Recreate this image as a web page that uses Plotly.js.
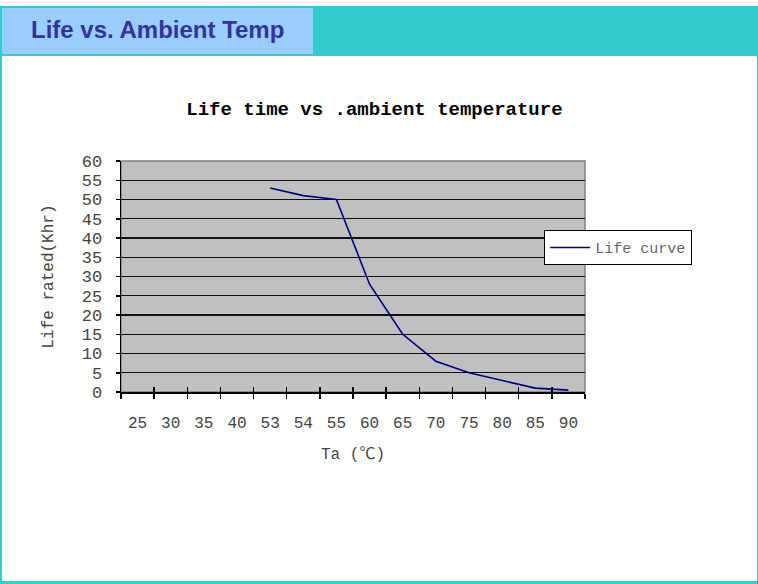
<!DOCTYPE html>
<html>
<head>
<meta charset="utf-8">
<script src="https://cdn.plot.ly/plotly-3.0.1.min.js"></script>
<style>
  html, body { margin: 0; padding: 0; background: #ffffff; }
  #page { position: relative; width: 758px; height: 584px; overflow: hidden; background: #ffffff; }
  #band { position: absolute; left: 0; top: 6px; width: 758px; height: 50px; background: #33CCCC; }
  #tab { position: absolute; left: 2px; top: 8px; width: 311px; height: 46px; background: #99CCFF;
         font-family: "Liberation Sans", Arial, sans-serif; font-weight: bold; font-size: 24px;
         color: #333399; line-height: 44px; box-sizing: border-box; padding-left: 29px; white-space: nowrap; }
  #frame { position: absolute; left: 0; top: 56px; width: 758px; height: 528px; box-sizing: border-box;
           border-left: 2px solid #33CCCC; border-right: 1px solid #33CCCC; border-bottom: 3px solid #33CCCC; }
  #chart { position: absolute; left: 0; top: 0; width: 758px; height: 584px; }
</style>
</head>
<body>
<div id="page">
  <div id="band"></div>
  <div id="tab">Life vs. Ambient Temp</div>
  <div id="frame"></div>
  <div id="chart"></div>
</div>
<script>
const temperatures = ["25", "30", "35", "40", "53", "54", "55", "60", "65", "70", "75", "80", "85", "90"];
const lifeKhr = [null, null, null, null, 53, 51, 50, 28, 15, 8, 5, 3, 1, 0.5];
const seriesName = "Life curve";
const yTicks = [0, 5, 10, 15, 20, 25, 30, 35, 40, 45, 50, 55, 60];

const mono = "'Liberation Mono', 'DejaVu Sans Mono', 'Noto Sans CJK SC', monospace";

const traces = [
  {
    x: temperatures, y: lifeKhr, name: seriesName, type: "scatter", mode: "lines",
    line: { color: "#000080", width: 1.6 }, connectgaps: false, hoverinfo: "x+y"
  },
  {
    x: temperatures, y: lifeKhr, xaxis: "x2", type: "scatter", mode: "lines",
    line: { color: "rgba(0,0,0,0)", width: 0 }, showlegend: false, hoverinfo: "skip"
  }
];

const layout = {
  width: 758, height: 584,
  paper_bgcolor: "rgba(0,0,0,0)",
  plot_bgcolor: "#C0C0C0",
  margin: { l: 121, r: 173, t: 161, b: 192, pad: 0 },
  title: {
    text: "Life time vs .ambient temperature",
    font: { family: mono, size: 19, color: "#000000", weight: "bold" },
    xref: "container", x: 0.494, xanchor: "center",
    yref: "container", y: 0.815, yanchor: "middle"
  },
  showlegend: true,
  legend: {
    x: 0.912, y: 0.70, xanchor: "left", yanchor: "top",
    bgcolor: "#ffffff", bordercolor: "#000000", borderwidth: 1,
    font: { family: mono, size: 15, color: "#666666" },
    itemwidth: 40
  },
  xaxis: {
    type: "category", categoryorder: "array", categoryarray: temperatures,
    range: [-0.5, 13.5], tickson: "boundaries",
    ticks: "outside", ticklen: 5, tickwidth: 1.5, tickcolor: "#000000",
    showline: true, linecolor: "#000000", linewidth: 1.5,
    showgrid: false, zeroline: false,
    tickfont: { family: mono, size: 16, color: "#444444" },
    ticklabelstandoff: 15,
    title: { text: "Ta (℃)", font: { family: mono, size: 16, color: "#444444" }, standoff: 16 },
    fixedrange: true
  },
  xaxis2: {
    type: "category", categoryorder: "array", categoryarray: temperatures,
    overlaying: "x", matches: "x", range: [-0.5, 13.5], tickson: "boundaries",
    ticks: "inside", ticklen: 5, tickwidth: 1.5, tickcolor: "#000000",
    showticklabels: false, showline: false, showgrid: false, zeroline: false,
    side: "bottom", fixedrange: true
  },
  yaxis: {
    range: [0, 60], tickvals: yTicks, ticktext: yTicks.map(String),
    ticks: "outside", ticklen: 4, tickwidth: 1.5, tickcolor: "#000000",
    showline: true, linecolor: "#000000", linewidth: 1.5,
    showgrid: true, gridcolor: "#111111", gridwidth: 1.3, zeroline: false,
    tickfont: { family: mono, size: 17, color: "#444444" },
    ticklabelstandoff: 10,
    title: { text: "Life rated(Khr)", font: { family: mono, size: 16, color: "#444444" }, standoff: 24 },
    fixedrange: true
  },
  shapes: [
    { type: "rect", xref: "paper", yref: "paper", x0: 0, x1: 1, y0: 0, y1: 1,
      line: { color: "#808080", width: 1.5 }, layer: "below" }
  ]
};

Plotly.newPlot("chart", traces, layout, { displayModeBar: false, staticPlot: true });
</script>
</body>
</html>
